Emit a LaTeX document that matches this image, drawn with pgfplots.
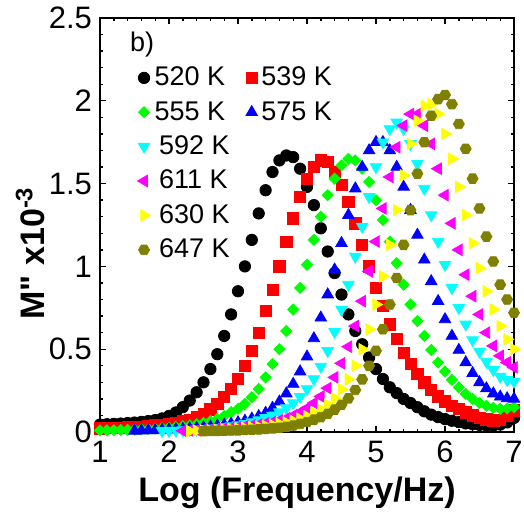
\documentclass[border=0pt]{standalone}
\usepackage{fontspec}
\setmainfont{Liberation Sans}
\newfontfamily\nolig{Liberation Sans}[Ligatures=TeXOff]
\usepackage{pgfplots}
\pgfplotsset{compat=1.18}
\usetikzlibrary{plotmarks}
\definecolor{cBlack}{RGB}{0,0,0}
\definecolor{cRed}{RGB}{255,0,0}
\definecolor{cGreen}{RGB}{0,255,0}
\definecolor{cBlue}{RGB}{0,0,255}
\definecolor{cCyan}{RGB}{0,255,255}
\definecolor{cMag}{RGB}{255,0,255}
\definecolor{cYel}{RGB}{255,255,0}
\definecolor{cOli}{RGB}{128,128,0}
\pgfdeclareplotmark{hexagon*}{%
  \pgfpathmoveto{\pgfqpointpolar{0}{\pgfplotmarksize}}%
  \pgfpathlineto{\pgfqpointpolar{60}{\pgfplotmarksize}}%
  \pgfpathlineto{\pgfqpointpolar{120}{\pgfplotmarksize}}%
  \pgfpathlineto{\pgfqpointpolar{180}{\pgfplotmarksize}}%
  \pgfpathlineto{\pgfqpointpolar{240}{\pgfplotmarksize}}%
  \pgfpathlineto{\pgfqpointpolar{300}{\pgfplotmarksize}}%
  \pgfpathclose
  \pgfusepathqfillstroke
}
\begin{document}
\begin{tikzpicture}
\begin{axis}[
  scale only axis, width=207pt, height=207pt,
  xmin=1, xmax=7, ymin=0, ymax=2.5,
  xtick={1,2,3,4,5,6,7},
  ytick={0,0.5,1,1.5,2,2.5},
  yticklabels={0,0.5,1,1.5,2,2.5},
  minor x tick num=4, minor y tick num=4,
  tick align=inside, xtick pos=both, ytick pos=both,
  major tick length=2.8pt, minor tick length=1.6pt,
  axis line style={line width=1pt},
  every tick/.style={black, line width=0.7pt},
  /pgf/number format/assume math mode=true,
  ticklabel style={font=\fontsize{15.5}{18}\selectfont},
  xticklabel style={yshift=-1pt},
  yticklabel style={xshift=-0.5pt},
  xlabel={\textbf{Log (Frequency/Hz)}},
  ylabel={{\nolig\bfseries M" x10\textsuperscript{-3}}},
  every axis x label/.style={at={(axis description cs:0.476,-0.147)}, anchor=center, font=\fontsize{17}{20}\selectfont},
  every axis y label/.style={at={(axis description cs:-0.168,0.432)}, anchor=center, rotate=90, font=\fontsize{17}{20}\selectfont},
  legend columns=2,
  legend cell align=left,
  legend style={draw=none, fill=none, at={(rel axis cs:0.075,0.902)}, anchor=north west,
    font=\fontsize{13.5}{15}\selectfont, row sep=2.3pt,
    /tikz/every even column/.append style={column sep=4pt}},
  legend image code/.code={\draw[mark repeat=2,mark phase=2,#1] plot coordinates {(0pt,0pt)(5pt,0pt)(14pt,0pt)};},
  only marks,
]
\addplot[mark=*, mark size=2.85pt, mark options={draw=cBlack, fill=cBlack}] coordinates {
(1.0,0.045)(1.1,0.047)(1.2,0.049)(1.3,0.051)(1.4,0.054)(1.5,0.057)(1.6,0.061)(1.7,0.066)(1.8,0.072)(1.9,0.082)
(2.0,0.097)(2.1,0.118)(2.2,0.15)(2.3,0.19)(2.4,0.24)(2.5,0.30)(2.6,0.38)(2.7,0.47)(2.8,0.58)(2.9,0.71)
(3.0,0.85)(3.1,1.00)(3.2,1.16)(3.3,1.32)(3.4,1.46)(3.5,1.57)(3.6,1.64)(3.7,1.67)(3.8,1.66)(3.9,1.59)
(4.0,1.48)(4.1,1.37)(4.2,1.23)(4.3,1.09)(4.4,0.96)(4.5,0.83)(4.6,0.71)(4.7,0.61)(4.8,0.53)(4.9,0.45)
(5.0,0.38)(5.1,0.32)(5.2,0.27)(5.3,0.235)(5.4,0.20)(5.5,0.175)(5.6,0.15)(5.7,0.125)(5.8,0.105)(5.9,0.09)
(6.0,0.078)(6.1,0.068)(6.2,0.06)(6.3,0.052)(6.4,0.047)(6.5,0.043)(6.6,0.04)(6.7,0.039)(6.8,0.045)(6.9,0.058)(7.0,0.085)};
\addlegendentry{520 K}
\addplot[mark=square*, mark size=2.8pt, mark options={draw=cRed, fill=cRed}] coordinates {
(1.0,0.022)(1.1,0.023)(1.2,0.024)(1.3,0.026)(1.4,0.028)(1.5,0.03)(1.6,0.033)(1.7,0.036)(1.8,0.04)(1.9,0.045)
(2.0,0.05)(2.1,0.056)(2.2,0.064)(2.3,0.075)(2.4,0.09)(2.5,0.11)(2.6,0.137)(2.7,0.17)(2.8,0.21)(2.9,0.26)
(3.0,0.32)(3.1,0.40)(3.2,0.49)(3.3,0.60)(3.4,0.73)(3.5,0.86)(3.6,1.00)(3.7,1.15)(3.8,1.29)(3.9,1.42)
(4.0,1.53)(4.1,1.60)(4.2,1.64)(4.3,1.63)(4.4,1.57)(4.5,1.49)(4.6,1.39)(4.7,1.26)(4.8,1.13)(4.9,1.00)
(5.0,0.87)(5.1,0.76)(5.2,0.65)(5.3,0.56)(5.4,0.48)(5.5,0.41)(5.6,0.35)(5.7,0.30)(5.8,0.255)(5.9,0.215)
(6.0,0.185)(6.1,0.16)(6.2,0.138)(6.3,0.118)(6.4,0.10)(6.5,0.087)(6.6,0.076)(6.7,0.07)(6.8,0.072)(6.9,0.095)(7.0,0.13)};
\addlegendentry{539 K}
\addplot[mark=square*, mark size=1.95pt, mark options={draw=cGreen, fill=cGreen, rotate=45}] coordinates {
(1.0,0.01)(1.1,0.01)(1.2,0.011)(1.3,0.012)(1.4,0.013)(1.5,0.014)(1.6,0.016)(1.7,0.018)(1.8,0.02)(1.9,0.023)
(2.0,0.026)(2.1,0.03)(2.2,0.035)(2.3,0.04)(2.4,0.047)(2.5,0.055)(2.6,0.066)(2.7,0.079)(2.8,0.097)(2.9,0.12)
(3.0,0.14)(3.1,0.17)(3.2,0.21)(3.3,0.26)(3.4,0.33)(3.5,0.41)(3.6,0.50)(3.7,0.61)(3.8,0.74)(3.9,0.87)
(4.0,1.01)(4.1,1.16)(4.2,1.30)(4.3,1.43)(4.4,1.53)(4.5,1.61)(4.6,1.65)(4.7,1.64)(4.8,1.59)(4.9,1.51)
(5.0,1.40)(5.1,1.28)(5.2,1.15)(5.3,1.02)(5.4,0.89)(5.5,0.77)(5.6,0.67)(5.7,0.58)(5.8,0.495)(5.9,0.42)
(6.0,0.365)(6.1,0.315)(6.2,0.27)(6.3,0.23)(6.4,0.20)(6.5,0.175)(6.6,0.158)(6.7,0.146)(6.8,0.14)(6.9,0.142)(7.0,0.15)};
\addlegendentry{555 K}
\addplot[mark=triangle*, mark size=3.3pt, mark options={draw=cBlue, fill=cBlue}] coordinates {
(1.5,0.007)(1.6,0.008)(1.7,0.009)(1.8,0.01)(1.9,0.012)
(2.0,0.014)(2.1,0.016)(2.2,0.018)(2.3,0.021)(2.4,0.024)(2.5,0.028)(2.6,0.032)(2.7,0.037)(2.8,0.043)(2.9,0.05)
(3.0,0.058)(3.1,0.067)(3.2,0.08)(3.3,0.095)(3.4,0.115)(3.5,0.145)(3.6,0.183)(3.7,0.232)(3.8,0.29)(3.9,0.365)
(4.0,0.455)(4.1,0.565)(4.2,0.69)(4.3,0.83)(4.4,0.98)(4.5,1.14)(4.6,1.31)(4.7,1.47)(4.8,1.60)(4.9,1.70)
(5.0,1.75)(5.1,1.75)(5.2,1.70)(5.3,1.60)(5.4,1.48)(5.5,1.34)(5.6,1.19)(5.7,1.04)(5.8,0.91)(5.9,0.79)
(6.0,0.68)(6.1,0.58)(6.2,0.495)(6.3,0.42)(6.4,0.355)(6.5,0.30)(6.6,0.263)(6.7,0.232)(6.8,0.213)(6.9,0.203)(7.0,0.20)};
\addlegendentry{575 K}
\addplot[mark=triangle*, mark size=3.3pt, mark options={draw=cCyan, fill=cCyan, rotate=180}] coordinates {
(1.9,0.007)
(2.0,0.008)(2.1,0.009)(2.2,0.011)(2.3,0.013)(2.4,0.016)(2.5,0.019)(2.6,0.022)(2.7,0.026)(2.8,0.03)(2.9,0.036)
(3.0,0.042)(3.1,0.05)(3.2,0.06)(3.3,0.072)(3.4,0.085)(3.5,0.10)(3.6,0.12)(3.7,0.145)(3.8,0.175)(3.9,0.213)
(4.0,0.26)(4.1,0.32)(4.2,0.395)(4.3,0.49)(4.4,0.605)(4.5,0.74)(4.6,0.89)(4.7,1.06)(4.8,1.24)(4.9,1.42)
(5.0,1.60)(5.1,1.75)(5.2,1.83)(5.3,1.87)(5.4,1.83)(5.5,1.74)(5.6,1.62)(5.7,1.47)(5.8,1.31)(5.9,1.15)
(6.0,1.01)(6.1,0.87)(6.2,0.75)(6.3,0.65)(6.4,0.555)(6.5,0.485)(6.6,0.425)(6.7,0.375)(6.8,0.335)(6.9,0.315)(7.0,0.305)};
\addlegendentry{\,592 K}
\addlegendimage{empty legend}\addlegendentry{}
\addplot[mark=triangle*, mark size=3.3pt, mark options={draw=cMag, fill=cMag, rotate=90}] coordinates {
(2.2,0.007)(2.3,0.009)(2.4,0.011)(2.5,0.013)(2.6,0.015)(2.7,0.018)(2.8,0.021)(2.9,0.025)
(3.0,0.029)(3.1,0.034)(3.2,0.039)(3.3,0.045)(3.4,0.052)(3.5,0.06)(3.6,0.07)(3.7,0.082)(3.8,0.1)(3.9,0.12)
(4.0,0.145)(4.1,0.175)(4.2,0.215)(4.3,0.265)(4.4,0.33)(4.5,0.415)(4.6,0.515)(4.7,0.64)(4.8,0.79)(4.9,0.97)
(5.0,1.15)(5.1,1.35)(5.2,1.54)(5.3,1.72)(5.4,1.85)(5.5,1.92)(5.6,1.92)(5.7,1.85)(5.8,1.74)(5.9,1.59)
(6.0,1.43)(6.1,1.26)(6.2,1.10)(6.3,0.95)(6.4,0.82)(6.5,0.71)(6.6,0.60)(6.7,0.52)(6.8,0.46)(6.9,0.42)(7.0,0.39)};
\addlegendentry{\,611 K}
\addlegendimage{empty legend}\addlegendentry{}
\addplot[mark=triangle*, mark size=3.3pt, mark options={draw=cYel, fill=cYel, rotate=-90}] coordinates {
(2.3,0.006)(2.4,0.008)(2.5,0.009)(2.6,0.011)(2.7,0.013)(2.8,0.015)(2.9,0.018)
(3.0,0.021)(3.1,0.024)(3.2,0.028)(3.3,0.032)(3.4,0.037)(3.5,0.043)(3.6,0.05)(3.7,0.058)(3.8,0.068)(3.9,0.08)
(4.0,0.095)(4.1,0.115)(4.2,0.135)(4.3,0.165)(4.4,0.203)(4.5,0.258)(4.6,0.318)(4.7,0.40)(4.8,0.50)(4.9,0.62)
(5.0,0.77)(5.1,0.94)(5.2,1.13)(5.3,1.34)(5.4,1.55)(5.5,1.74)(5.6,1.88)(5.7,1.97)(5.8,1.98)(5.9,1.92)
(6.0,1.80)(6.1,1.65)(6.2,1.48)(6.3,1.31)(6.4,1.14)(6.5,0.99)(6.6,0.85)(6.7,0.74)(6.8,0.64)(6.9,0.56)(7.0,0.50)};
\addlegendentry{\,630 K}
\addlegendimage{empty legend}\addlegendentry{}
\addplot[mark=hexagon*, mark size=2.75pt, mark options={draw=cOli, fill=cOli}] coordinates {
(2.5,0.005)(2.6,0.006)(2.7,0.007)(2.8,0.008)(2.9,0.009)
(3.0,0.01)(3.1,0.012)(3.2,0.014)(3.3,0.016)(3.4,0.019)(3.5,0.022)(3.6,0.026)(3.7,0.031)(3.8,0.039)(3.9,0.049)
(4.0,0.06)(4.1,0.075)(4.2,0.09)(4.3,0.11)(4.4,0.135)(4.5,0.165)(4.6,0.203)(4.7,0.254)(4.8,0.318)(4.9,0.40)
(5.0,0.49)(5.1,0.62)(5.2,0.77)(5.3,0.93)(5.4,1.13)(5.5,1.34)(5.6,1.56)(5.7,1.75)(5.8,1.91)(5.9,2.01)
(6.0,2.035)(6.1,1.98)(6.2,1.86)(6.3,1.71)(6.4,1.53)(6.5,1.35)(6.6,1.18)(6.7,1.03)(6.8,0.89)(6.9,0.80)(7.0,0.72)};
\addlegendentry{\,647 K}
\node[anchor=west, font=\fontsize{13.5}{15}\selectfont, inner sep=0pt] at (rel axis cs:0.072,0.935) {b)};
\coordinate (bl) at (rel axis cs:0,0);
\coordinate (tr) at (rel axis cs:1,1);
\end{axis}
\pgfresetboundingbox
\path[use as bounding box] ([shift={(-50pt,-45.5pt)}]bl) rectangle ([shift={(5pt,9pt)}]tr);
\end{tikzpicture}
\end{document}
